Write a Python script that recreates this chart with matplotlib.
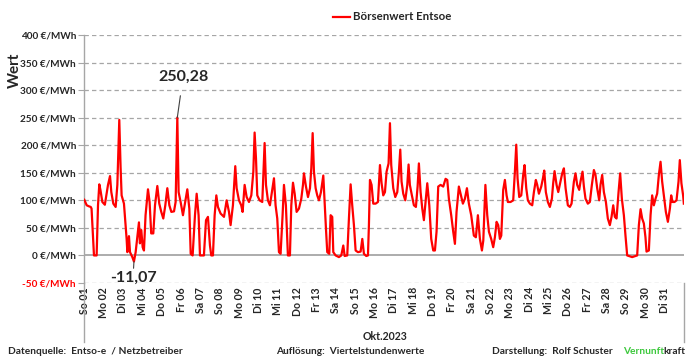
import matplotlib
matplotlib.use("Agg")
import matplotlib.pyplot as plt
from matplotlib.lines import Line2D

# ---- data (hours since 01.10.2023 00:00, price in EUR/MWh) ----
stunden = [
    0, 3, 6, 8, 9, 11, 12, 15.3, 17, 18.6, 20, 22.4, 25.5, 29.4, 31.9, 33.5, 36, 38.9, 41, 43.4,
    45, 46.3, 49.2, 52.5, 53.4, 55.4, 56.7, 59.6, 61.6, 63.7, 67.8, 69, 70.7, 72.4, 74, 76, 79, 81,
    83, 85.6, 87.7, 90.6, 93, 95.5, 98, 100.5, 103, 105.5, 108, 111.3, 113.3, 115.4, 117, 119.5,
    122.4, 127.8, 130.3, 132, 134.4, 137.3, 139.4, 141.8, 143.5, 148.4, 151, 153.4, 155.9, 157.5,
    159.6, 161.7, 163.8, 165.8, 169.1, 173.3, 176.6, 179.5, 181.5, 184.4, 187.3, 189, 191.9, 194.7,
    196.4, 198.9, 201.4, 204.3, 207.2, 209.7, 211.3, 213, 214.6, 217.5, 220.8, 223.7, 225.4, 227.8,
    230.3, 233.2, 235.3, 237.3, 239.4, 241.5, 243.5, 246, 247.7, 250.1, 252.6, 255.1, 256.8, 258.9,
    261, 263.4, 266.3, 269.2, 271.3, 272.5, 275, 277.5, 280, 281.6, 283.3, 284.9, 287, 289, 291.1,
    293.6, 296.5, 298.1, 299.8, 301.4, 303.9, 305.6, 307.6, 308.9, 311.8, 315.9, 318.8, 321.3, 323,
    326.2, 328.3, 330.4, 332.4, 334.5, 336.6, 339.5, 342.8, 344.9, 346.9, 349.8, 351.9, 353.1, 354.4,
    356.4, 358.5, 361.4, 364.3, 366.8, 368.8, 370.9, 373, 375, 377.5, 379.2, 380.8, 383.3, 385.8,
    388.3, 390.3, 392, 393.6, 395.7, 398.2, 400.7, 402.3, 403.9, 406, 408.9, 411.4, 413.5, 415.1,
    417.2, 419.3, 421.3, 423.4, 425.5, 428, 430.4, 432.9, 435, 437, 439.1, 442, 445.3, 448.2, 450.3,
    452.3, 455.2, 457.7, 459.8, 461.8, 464.7, 466.8, 469.7, 472.2, 474.7, 477.1, 480, 483.3, 485.8,
    488.3, 490.8, 493.3, 495.0, 497.6, 499.9, 502, 504.8, 507.3, 509.4, 511.5, 513.5, 515.6, 517.3,
    519.7, 521.8, 523.9, 525.5, 528.8, 532.1, 534.2, 535.9, 537.5, 539.6, 542.1, 544.5, 546.2, 548.3,
    550.3, 552.8, 555.7, 557.8, 560.2, 561.9, 564, 566.9, 569, 570.6, 572.6, 575.1, 577.6, 580.1,
    581.7, 583.4, 585.9, 588, 590.8, 592.9, 595, 597.1, 599.9, 602.4, 604.5, 607.4, 609.4, 611.5,
    614, 615.6, 618.1, 619.8, 621.8, 624.7, 627.2, 629.7, 632.2, 634.2, 636.3, 638.8, 640.4, 642.5,
    644.6, 647.1, 649.5, 652, 654.1, 656.2, 658.2, 660.3, 662.8, 664.8, 666.9, 669.4, 671.4, 673.5,
    679.7, 685.9, 688, 690.1, 692.1, 694.2, 696.2, 697.5, 700.4, 702.5, 704.5, 706.6, 708.7, 710.7,
    712.8, 714.9, 716.9, 719, 721.5, 724, 726.5, 728.1, 729.7, 732.2, 734.7, 737.2, 738.8, 740.8,
    742.9, 743.8,
]
preis = [
    101, 91, 89, 88, 85, 30, 0, 0, 91, 129, 119, 97, 92, 128, 144, 115, 94, 88, 128, 246,
    161, 109, 94, 30, 6, 35, 6, -3, -11.07, 6, 60, 22, 46, 15, 9, 73, 120, 97,
    40, 40, 91, 126, 94, 79, 67, 91, 122, 91, 79, 80, 97, 250.28, 115, 97,
    73, 120, 85, 3, 0, 73, 112, 73, 0, 0, 64, 70, 18, 0,
    0, 73, 109, 88, 76, 70, 100, 79, 55, 91, 162, 122, 100, 91,
    79, 128, 106, 97, 109, 152, 223, 176, 109, 100, 97, 204, 128, 100,
    91, 119, 140, 91, 67, 6, 3, 73, 128, 91, 0, 0, 91, 132,
    112, 79, 85, 103, 128, 149, 125, 106, 122, 158, 222, 152, 122, 109, 100,
    115, 145, 97, 49, 6, 3, 73, 70, 6, 0, -3, 0, 18, -1,
    0, 67, 129, 91, 55, 9, 6, 7, 30, 3, -1, 0, 55, 137,
    128, 94, 94, 97, 164, 131, 109, 115, 152, 167, 240, 164, 122, 106,
    115, 152, 192, 134, 112, 100, 128, 165, 128, 112, 91, 88, 125, 167,
    115, 85, 64, 97, 131, 91, 30, 9, 9, 43, 125, 128, 125, 139, 137,
    103, 73, 43, 21, 79, 125, 112, 94, 103, 122, 94, 73, 36, 33,
    73, 30, 9, 27, 128, 73, 43, 30, 15, 33, 61, 55, 30, 36,
    119, 137, 109, 97, 97, 100, 152, 201, 140, 106, 109, 146, 164, 122,
    100, 94, 91, 115, 137, 128, 112, 125, 140, 154, 115, 97, 88, 103,
    131, 153, 128, 115, 134, 149, 158, 122, 91, 88, 94, 134, 149, 128,
    119, 134, 152, 125, 103, 94, 97, 128, 155, 146, 122, 100, 128, 146,
    115, 97, 67, 55, 70, 91, 70, 67, 115, 149, 103, 73, 36, 0,
    -3, 0, 55, 84, 67, 58, 33, 7, 9, 73, 109, 91, 103, 112,
    146, 170, 134, 109, 79, 61, 85, 109, 97, 97, 100, 134, 173, 131,
    109, 94,
]
tage = ["So 01", "Mo 02", "Di 03", "Mi 04", "Do 05", "Fr 06", "Sa 07", "So 08", "Mo 09", "Di 10",
        "Mi 11", "Do 12", "Fr 13", "Sa 14", "So 15", "Mo 16", "Di 17", "Mi 18", "Do 19", "Fr 20",
        "Sa 21", "So 22", "Mo 23", "Di 24", "Mi 25", "Do 26", "Fr 27", "Sa 28", "So 29", "Mo 30",
        "Di 31"]
y_werte = [-50, 0, 50, 100, 150, 200, 250, 300, 350, 400]
y_labels = ["-50 €/MWh", "0 €/MWh", "50 €/MWh", "100 €/MWh", "150 €/MWh", "200 €/MWh",
            "250 €/MWh", "300 €/MWh", "350 €/MWh", "400 €/MWh"]
max_wert = 250.28
min_wert = -11.07

FONT = "Lato"
TXT = "#262626"
GRID = "#a6a6a6"
W, H = 697, 360

fig = plt.figure(figsize=(W / 100, H / 100), dpi=100)
fig.patch.set_facecolor("white")

left_px, right_px, top_px, bot_px = 84.3, 684, 35, 283
ax = fig.add_axes([left_px / W, 1 - bot_px / H, (right_px - left_px) / W, (bot_px - top_px) / H])

x_tage = [h / 24 for h in stunden]
ax.plot(x_tage, preis, color="#ff0000", lw=1.6, solid_joinstyle="round", zorder=3)

ax.set_xlim(0, 31)
ax.set_ylim(-50, 400)

for v in y_werte:
    if v == 0:
        ax.axhline(v, color=GRID, lw=1.3, zorder=1)
    else:
        ax.axhline(v, color=GRID, lw=0.9, ls=(0, (3.5, 2.5)), zorder=1)

for s in ["top", "right", "bottom"]:
    ax.spines[s].set_visible(False)
ax.spines["left"].set_color(GRID)
ax.spines["left"].set_linewidth(1.0)

ax.set_yticks(y_werte)
ax.set_yticklabels(y_labels, fontfamily=FONT, fontweight="bold", fontsize=7.2, color=TXT)
for lab, v in zip(ax.get_yticklabels(), y_werte):
    if v < 0:
        lab.set_color("#ff0000")
ax.tick_params(axis="y", length=4, color=GRID, pad=2)

ax.set_xticks(range(31))
ax.set_xticklabels(tage, rotation=90, fontfamily=FONT, fontweight="bold", fontsize=7.6, color=TXT,
                   va="top", ha="center")
ax.tick_params(axis="x", length=0, pad=3)

# multi-level category dividers
fig.add_artist(Line2D([left_px / W] * 2, [1 - bot_px / H, 1 - 342 / H], color=GRID, lw=1.0))
fig.add_artist(Line2D([right_px / W] * 2, [1 - bot_px / H, 1 - 342 / H], color=GRID, lw=1.0))

fig.text(385 / W, 1 - 337 / H, "Okt.2023", fontfamily=FONT, fontweight="bold", fontsize=7.6,
         color=TXT, ha="center", va="center")

# y label
fig.text(15 / W, 1 - 70 / H, "Wert", rotation=90, fontfamily=FONT, fontweight="bold", fontsize=11,
         color=TXT, ha="center", va="center")

# legend
fig.add_artist(Line2D([333 / W, 350 / W], [1 - 17 / H] * 2, color="#ff0000", lw=1.6))
fig.text(353 / W, 1 - 17 / H, "Börsenwert Entsoe", fontfamily=FONT, fontweight="bold", fontsize=8.3,
         color=TXT, ha="left", va="center")

# annotations
i_max = preis.index(max_wert)
i_min = preis.index(min_wert)
ax.annotate(f"{max_wert:.2f}".replace(".", ","), xy=(x_tage[i_max], preis[i_max]),
            xytext=(x_tage[i_max] + 0.3, 325), textcoords="data",
            fontfamily=FONT, fontweight="bold", fontsize=11.5, color=TXT, ha="center", va="center",
            arrowprops=dict(arrowstyle="-", color="#404040", lw=0.8, shrinkA=7, shrinkB=0))
ax.annotate(f"{min_wert:.2f}".replace(".", ","), xy=(x_tage[i_min], preis[i_min]),
            xytext=(x_tage[i_min] - 0.05, -41), textcoords="data",
            fontfamily=FONT, fontweight="bold", fontsize=11.5, color=TXT, ha="center", va="center",
            arrowprops=dict(arrowstyle="-", color="#404040", lw=0.8, shrinkA=7, shrinkB=0))

# footer
fy = 1 - 352 / H
fig.text(8 / W, fy, "Datenquelle:  Entso-e  / Netzbetreiber", fontfamily=FONT, fontweight="bold",
         fontsize=7.3, color=TXT, ha="left", va="center")
fig.text(350 / W, fy, "Auflösung:  Viertelstundenwerte", fontfamily=FONT, fontweight="bold",
         fontsize=7.3, color=TXT, ha="center", va="center")
t1 = fig.text(492 / W, fy, "Darstellung:  Rolf Schuster    ", fontfamily=FONT, fontweight="bold",
              fontsize=7.3, color=TXT, ha="left", va="center")
fig.canvas.draw()
bb = t1.get_window_extent()
t2 = fig.text(bb.x1 / W, fy, "Vernunft", fontfamily=FONT, fontweight="bold", fontsize=7.3,
              color="#3cc83c", ha="left", va="center")
fig.canvas.draw()
bb2 = t2.get_window_extent()
fig.text(bb2.x1 / W, fy, "kraft", fontfamily=FONT, fontweight="bold", fontsize=7.3,
         color=TXT, ha="left", va="center")

fig.savefig("out.png", dpi=100, facecolor="white")
